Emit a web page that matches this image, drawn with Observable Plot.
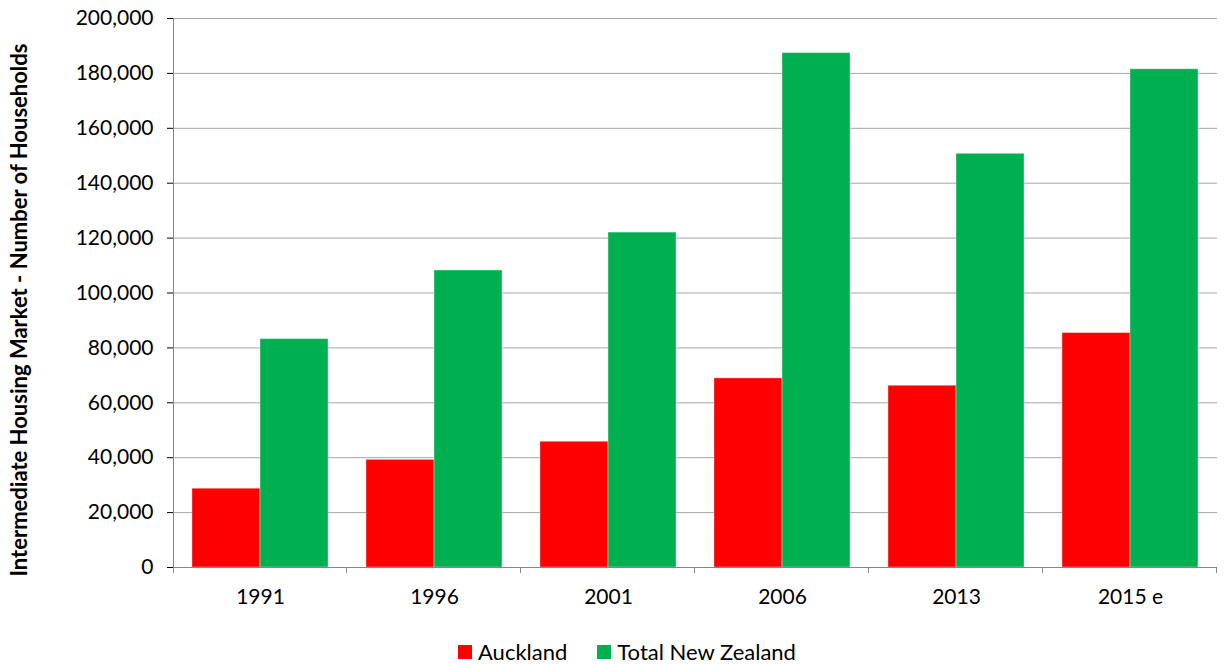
<!DOCTYPE html>
<html><head><meta charset="utf-8">
<script src="https://cdn.jsdelivr.net/npm/d3@7"></script>
<script src="https://cdn.jsdelivr.net/npm/@observablehq/plot@0.6"></script>
<style>
body{margin:0;background:#fff;font-family:Lato, sans-serif;}
#wrap{position:relative;width:1225px;height:664px;overflow:hidden;}
#legend{position:absolute;left:458px;top:638px;display:flex;align-items:center;font-size:22px;color:#000;white-space:nowrap;}
#legend .item{display:flex;align-items:center;margin-right:30px;}
#legend .sw{width:14px;height:14px;margin-right:6px;}
</style></head><body><div id="wrap"></div>
<script>
const years = ["1991", "1996", "2001", "2006", "2013", "2015 e"];
const auckland = [28700, 39200, 45800, 68900, 66200, 85400];
const totalNZ = [83200, 108200, 122000, 187400, 150700, 181500];
const seriesNames = ["Auckland", "Total New Zealand"];
const colors = ["#ff0000", "#00b050"];
const yTicks = [0, 20000, 40000, 60000, 80000, 100000, 120000, 140000, 160000, 180000, 200000];
const yLabel = "Intermediate Housing Market - Number of Households";

const data = years.flatMap((y, i) => [
  {year: y, series: seriesNames[0], value: auckland[i]},
  {year: y, series: seriesNames[1], value: totalNZ[i]}
]);

const chart = Plot.plot({
  width: 1225, height: 620,
  marginLeft: 171, marginRight: 7, marginTop: 18, marginBottom: 53,
  style: {fontFamily: "Lato, sans-serif", fontSize: "21px", color: "#000", background: "#fff"},
  fx: {domain: years, padding: 0, label: null, axis: "bottom", tickSize: 0, tickPadding: 22},
  x: {domain: seriesNames, paddingInner: 0, paddingOuter: 0.2645, axis: null},
  y: {domain: [0, 200000], ticks: yTicks, tickFormat: d3.format(","), label: null, tickSize: 6, tickPadding: 14},
  color: {domain: seriesNames, range: colors},
  marks: [
    Plot.ruleY(yTicks.filter(d => d > 0), {stroke: "#a6a6a6", strokeWidth: 1}),
    Plot.barY(data, {fx: "year", x: "series", y: "value", fill: "series", stroke: "#ffffff", strokeOpacity: 0.35, strokeWidth: 1}),
    Plot.ruleY([0], {stroke: "#868686", strokeWidth: 1})
  ]
});

const wrap = document.getElementById("wrap");
wrap.appendChild(chart);

// axis styling using the library's scales
const svg = d3.select(chart);
svg.selectAll('[aria-label="y-axis tick"]').attr("stroke", "#868686");
const fx = chart.scale("fx");
const y = chart.scale("y");
const y0 = y.apply(0), yTop = y.apply(200000);
const g = svg.append("g").attr("stroke", "#868686").attr("stroke-width", 1);
const x0 = fx.apply(years[0]);
g.append("line").attr("x1", x0 + 0.5).attr("x2", x0 + 0.5).attr("y1", yTop).attr("y2", y0 + 6);
const bounds = years.map(d => fx.apply(d)).concat([fx.apply(years[years.length - 1]) + fx.bandwidth]);
bounds.slice(1).forEach(b => {
  g.append("line").attr("x1", b - 0.5).attr("x2", b - 0.5).attr("y1", y0).attr("y2", y0 + 6);
});
svg.append("text")
  .attr("transform", `translate(27,310) rotate(-90)`)
  .attr("text-anchor", "middle")
  .attr("font-weight", "bold")
  .attr("font-size", "22px")
  .attr("fill", "#000")
  .text(yLabel);

// legend
const legend = document.createElement("div");
legend.id = "legend";
seriesNames.forEach((s, i) => {
  const item = document.createElement("div");
  item.className = "item";
  const sw = document.createElement("div");
  sw.className = "sw";
  sw.style.background = colors[i];
  const t = document.createElement("span");
  t.textContent = s;
  item.appendChild(sw); item.appendChild(t);
  legend.appendChild(item);
});
wrap.appendChild(legend);
</script>
</body></html>
